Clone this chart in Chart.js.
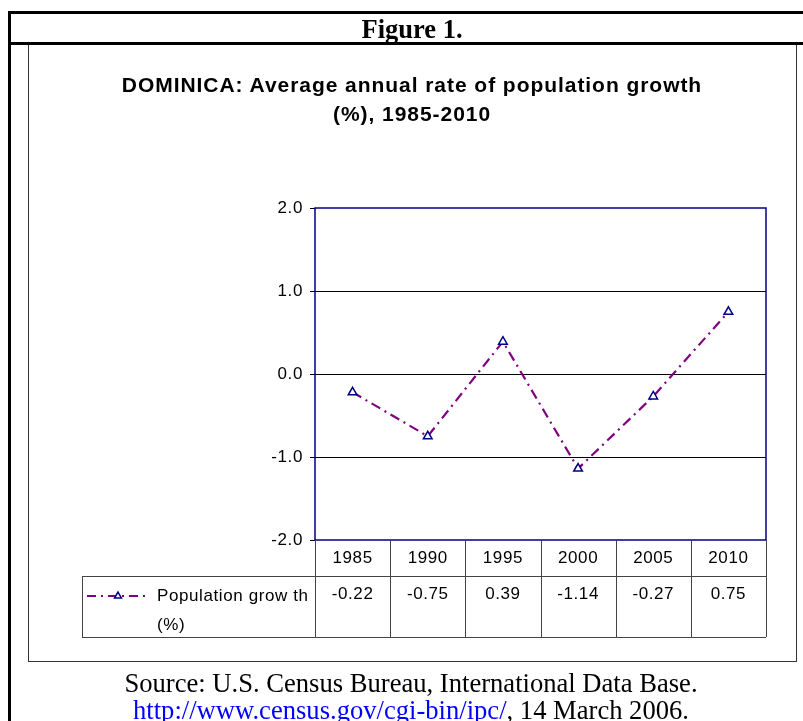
<!DOCTYPE html>
<html lang="en">
<head>
  <meta charset="UTF-8">
  <title>Dominica population growth</title>
  <script src="https://cdn.jsdelivr.net/npm/chart.js"></script>
  <style>
    * {
      margin: 0;
      padding: 0;
      box-sizing: border-box;
    }

    body {
      width: 803px;
      height: 721px;
      background: #fff;
      position: relative;
      overflow: hidden;
      font-family: "Liberation Sans", Arial, sans-serif;
    }

    #chart {
      position: absolute;
      left: 0;
      top: 0;
    }

    .outer {
      position: absolute;
      left: 8px;
      top: 11px;
      width: 810px;
      height: 740px;
      border-top: 3px solid #000;
      border-left: 3px solid #000;
    }

    .header-line {
      position: absolute;
      left: 8px;
      top: 42px;
      width: 800px;
      height: 3px;
      background: #000;
    }

    .figure-title {
      position: absolute;
      left: 262px;
      width: 300px;
      top: 15px;
      line-height: 28px;
      text-align: center;
      font-family: "Liberation Serif", "Times New Roman", serif;
      font-weight: bold;
      font-size: 26.5px;
    }

    .chart-box {
      position: absolute;
      left: 28px;
      top: 45px;
      width: 769px;
      height: 617px;
      border: 1px solid #333;
      border-top: none;
    }

    .chart-title {
      position: absolute;
      left: 62px;
      width: 700px;
      top: 70px;
      text-align: center;
      font-weight: bold;
      font-size: 21px;
      line-height: 29px;
      letter-spacing: 0.95px;
      color: #000;
    }

    .source {
      position: absolute;
      left: 0;
      width: 822px;
      top: 670px;
      text-align: center;
      font-family: "Liberation Serif", "Times New Roman", serif;
      font-size: 26.6px;
      line-height: 27px;
      color: #000;
    }

    .source a {
      color: #0000ff;
      text-decoration: underline;
    }
  </style>
</head>
<body>
  <canvas id="chart" width="803" height="721"></canvas>
  <div class="outer"></div>
  <div class="header-line"></div>
  <div class="figure-title">Figure 1.</div>
  <div class="chart-box"></div>
  <div class="chart-title">DOMINICA: Average annual rate of population growth<br>(%), 1985-2010</div>
  <div class="source">Source: U.S. Census Bureau, International Data Base.<br><a href="#">http://www.census.gov/cgi-bin/ipc/</a>, 14 March 2006.</div>

  <script>
    const years = ['1985', '1990', '1995', '2000', '2005', '2010'];
    const growth = [-0.22, -0.75, 0.39, -1.14, -0.27, 0.75];
    const yMin = -2;
    const yMax = 2;
    const yStep = 1;
    const seriesLabel = ['Population grow th', '(%)'];

    const lineColor = '#800080';
    const markerColor = '#000080';
    const tableFont = '17px "Liberation Sans", Arial, sans-serif';

    // draws the plot frame and the data table under the x axis
    const dataTablePlugin = {
      id: 'dataTable',
      beforeDraw(chart) {
        chart.ctx.letterSpacing = '0.6px';
      },
      afterDraw(chart) {
        const { ctx, chartArea: a, scales: { x } } = chart;
        const half = (a.right - a.left) / years.length / 2;
        const headerBottom = a.bottom + 36;
        const tableBottom = headerBottom + 61;
        const legendLeft = 82;

        ctx.save();
        ctx.strokeStyle = markerColor;
        ctx.lineWidth = 1.5;
        ctx.strokeRect(a.left, a.top, a.right - a.left, a.bottom - a.top);

        ctx.strokeStyle = '#444';
        ctx.lineWidth = 1;
        ctx.beginPath();
        for (let i = 0; i <= years.length; i++) {
          const xb = i < years.length ? x.getPixelForValue(i) - half : x.getPixelForValue(i - 1) + half;
          ctx.moveTo(Math.round(xb) + 0.5, a.bottom);
          ctx.lineTo(Math.round(xb) + 0.5, tableBottom);
        }
        ctx.moveTo(legendLeft, headerBottom + 0.5);
        ctx.lineTo(a.right, headerBottom + 0.5);
        ctx.moveTo(legendLeft, tableBottom + 0.5);
        ctx.lineTo(a.right, tableBottom + 0.5);
        ctx.moveTo(legendLeft + 0.5, headerBottom);
        ctx.lineTo(legendLeft + 0.5, tableBottom);
        ctx.stroke();

        ctx.fillStyle = '#000';
        ctx.font = tableFont;
        ctx.textAlign = 'center';
        ctx.textBaseline = 'middle';
        growth.forEach((v, i) => {
          ctx.fillText(v.toFixed(2), x.getPixelForValue(i), headerBottom + 18);
        });

        // legend key
        const keyY = headerBottom + 20;
        ctx.strokeStyle = lineColor;
        ctx.lineWidth = 2;
        ctx.setLineDash([9, 5, 2, 5]);
        ctx.beginPath();
        ctx.moveTo(legendLeft + 5, keyY);
        ctx.lineTo(legendLeft + 68, keyY);
        ctx.stroke();
        ctx.setLineDash([]);
        ctx.fillStyle = '#fff';
        ctx.strokeStyle = markerColor;
        ctx.lineWidth = 1.5;
        Chart.helpers.drawPoint(ctx, {
          pointStyle: 'triangle', radius: 4, borderWidth: 1.5,
          borderColor: markerColor, backgroundColor: '#fff'
        }, legendLeft + 36, keyY);
        ctx.fillStyle = '#000';
        ctx.textAlign = 'left';
        ctx.fillText(seriesLabel[0], legendLeft + 75, keyY);
        ctx.fillText(seriesLabel[1], legendLeft + 75, keyY + 29);
        ctx.restore();
      }
    };

    const ctx = document.getElementById('chart').getContext('2d');
    new Chart(ctx, {
      type: 'line',
      data: {
        labels: years,
        datasets: [{
          label: seriesLabel.join(' '),
          data: growth,
          borderColor: lineColor,
          borderWidth: 2.2,
          borderDash: [10, 5, 2, 5],
          tension: 0,
          fill: false,
          pointStyle: 'triangle',
          pointRadius: 5,
          pointBorderColor: markerColor,
          pointBackgroundColor: '#fff',
          pointBorderWidth: 1.5
        }]
      },
      options: {
        responsive: false,
        animation: false,
        layout: {
          padding: { left: 265, right: 37, top: 208, bottom: 145 }
        },
        plugins: {
          legend: { display: false },
          title: { display: false },
          tooltip: { enabled: false }
        },
        scales: {
          x: {
            type: 'category',
            offset: true,
            grid: { display: false, drawTicks: false },
            border: { display: false },
            ticks: {
              color: '#000',
              font: { family: '"Liberation Sans", Arial, sans-serif', size: 17 },
              padding: 8,
              maxRotation: 0
            },
            afterFit(scale) { scale.height = 36; }
          },
          y: {
            min: yMin,
            max: yMax,
            border: { display: false },
            grid: {
              color: c => (c.tick && (c.tick.value === yMin || c.tick.value === yMax)) ? 'rgba(0,0,0,0)' : '#000',
              tickColor: '#000',
              tickLength: 5,
              lineWidth: 1
            },
            ticks: {
              stepSize: yStep,
              color: '#000',
              padding: 7,
              font: { family: '"Liberation Sans", Arial, sans-serif', size: 17 },
              callback: v => v.toFixed(1)
            },
            afterFit(scale) { scale.width = 50; }
          }
        }
      },
      plugins: [dataTablePlugin]
    });
  </script>
</body>
</html>
